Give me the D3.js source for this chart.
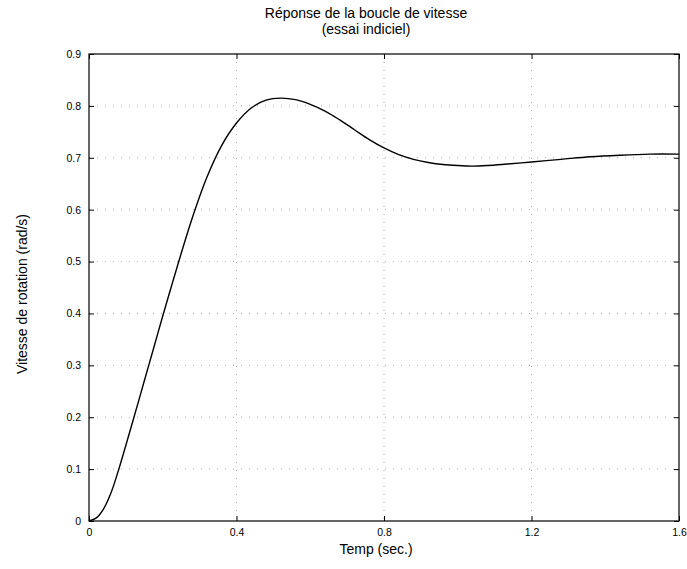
<!DOCTYPE html>
<html>
<head>
<meta charset="utf-8">
<script src="https://cdn.jsdelivr.net/npm/d3@7"></script>
<style>
  body { margin: 0; background: #fff; }
  text { font-family: "Liberation Sans", Arial, sans-serif; fill: #000; }
</style>
</head>
<body>
<div id="chart"></div>
<script>
//tick labels
const xTicks = [0, 0.4, 0.8, 1.2, 1.6];
const yTicks = [0, 0.1, 0.2, 0.3, 0.4, 0.5, 0.6, 0.7, 0.8, 0.9];

//step response samples (time in s, speed in rad/s)
const timeVals = [0, 0.02, 0.04, 0.06, 0.08, 0.10, 0.12, 0.14, 0.16, 0.18, 0.20, 0.24, 0.28, 0.32, 0.36,
                  0.40, 0.44, 0.48, 0.52, 0.56, 0.60, 0.64, 0.68, 0.72, 0.76, 0.80, 0.84, 0.88, 0.92,
                  0.96, 1.00, 1.04, 1.08, 1.12, 1.20, 1.28, 1.36, 1.44, 1.52, 1.60];
const speedVals = [0, 0.006, 0.024, 0.055, 0.098, 0.146, 0.195, 0.245, 0.295, 0.345, 0.395, 0.492, 0.584, 0.663, 0.724,
                   0.767, 0.796, 0.811, 0.815, 0.812, 0.803, 0.790, 0.773, 0.754, 0.735, 0.719, 0.706, 0.697, 0.691,
                   0.687, 0.685, 0.684, 0.685, 0.687, 0.692, 0.697, 0.702, 0.705, 0.707, 0.707];

const titleLines = ['Réponse de la boucle de vitesse', '(essai indiciel)'];
const xLabel = 'Temp (sec.)';
const yLabel = 'Vitesse de rotation (rad/s)';

const W = 687, H = 569;
const margin = { top: 54, right: 8, bottom: 48, left: 89 };
const width = W - margin.left - margin.right;
const height = H - margin.top - margin.bottom;

const svg = d3.select('#chart').append('svg')
    .attr('width', W)
    .attr('height', H);

const g = svg.append('g').attr('transform', `translate(${margin.left},${margin.top})`);

const x = d3.scaleLinear().domain([0, 1.6]).range([0, width]);
const y = d3.scaleLinear().domain([0, 0.9]).range([height, 0]);

//dotted grid, faint like the scan
const grid = g.append('g').attr('class', 'grid')
    .attr('stroke', '#aaa').attr('stroke-width', 1).attr('stroke-dasharray', '1,7');
grid.selectAll('.gx').data(xTicks.slice(1, -1)).enter().append('line')
    .attr('x1', d => x(d)).attr('x2', d => x(d))
    .attr('y1', 0).attr('y2', height);
grid.selectAll('.gy').data(yTicks.slice(1, -1)).enter().append('line')
    .attr('x1', 0).attr('x2', width)
    .attr('y1', d => y(d)).attr('y2', d => y(d));

//axes with inward ticks (matlab style)
const fmt = d => d === 0 ? '0' : d3.format('.1f')(d);
const styleAxis = sel => {
    sel.select('.domain').remove();
    sel.selectAll('line').attr('stroke', '#000');
    sel.selectAll('text').style('font-size', '10.5px');
};
g.append('g').attr('transform', `translate(0,${height})`)
    .call(d3.axisBottom(x).tickValues(xTicks).tickFormat(fmt).tickSize(-5).tickPadding(8))
    .call(styleAxis);
g.append('g')
    .call(d3.axisLeft(y).tickValues(yTicks).tickFormat(fmt).tickSize(-5).tickPadding(8))
    .call(styleAxis);
g.append('g')
    .call(d3.axisTop(x).tickValues(xTicks).tickFormat('').tickSize(-5))
    .call(styleAxis);
g.append('g').attr('transform', `translate(${width},0)`)
    .call(d3.axisRight(y).tickValues(yTicks).tickFormat('').tickSize(-5))
    .call(styleAxis);

//box
g.append('rect')
    .attr('width', width).attr('height', height)
    .attr('fill', 'none').attr('stroke', '#000').attr('stroke-width', 1.2);

//response curve
const pts = timeVals.map((t, i) => [t, speedVals[i]]);
const line = d3.line()
    .x(d => x(d[0]))
    .y(d => y(d[1]))
    .curve(d3.curveCatmullRom.alpha(0.5));
g.append('path')
    .datum(pts)
    .attr('d', line)
    .attr('fill', 'none')
    .attr('stroke', '#000')
    .attr('stroke-width', 1.4);

//title
svg.selectAll('.title').data(titleLines).enter().append('text')
    .attr('x', 366)
    .attr('y', (d, i) => 18 + i * 16)
    .attr('text-anchor', 'middle')
    .style('font-size', '14px')
    .text(d => d);

//axis labels
svg.append('text')
    .attr('x', 376).attr('y', 554)
    .attr('text-anchor', 'middle')
    .style('font-size', '14px')
    .text(xLabel);
svg.append('text')
    .attr('transform', 'translate(27,294) rotate(-90)')
    .attr('text-anchor', 'middle')
    .style('font-size', '14px')
    .text(yLabel);
</script>
</body>
</html>
